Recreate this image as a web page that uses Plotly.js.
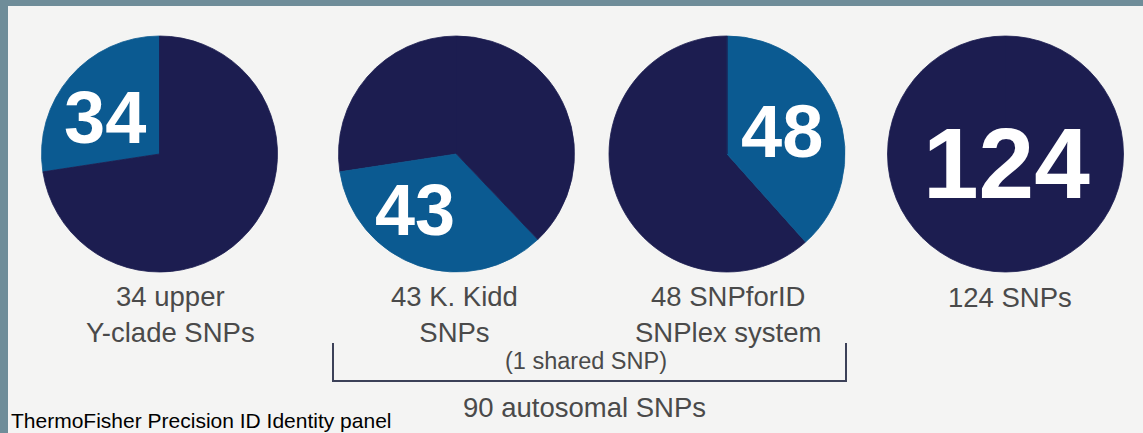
<!DOCTYPE html>
<html>
<head>
<meta charset="utf-8">
<script src="https://cdn.plot.ly/plotly-3.0.1.min.js"></script>
<style>
  html, body { margin: 0; padding: 0; background: #6f8d99; }
  #chart { width: 1143px; height: 433px; }
</style>
</head>
<body>
<div id="chart"></div>
<script>
// ---- data ----
const totalSNPs = 124;
const panelCounts = [34, 43, 48, 124];
const panelOffsets = [0, 34, 77, 0];          // where each SNP set starts in the 124-SNP list
const numberLabels = ['34', '43', '48', '124'];
const panelCaptions = ['34 upper<br>Y-clade SNPs', '43 K. Kidd<br>SNPs', '48 SNPforID<br>SNPlex system', '124 SNPs'];
const bracketNote = '(1 shared SNP)';
const bracketLabel = '90 autosomal SNPs';
const sourceNote = 'ThermoFisher Precision ID Identity panel';

// ---- style / layout ----
const W = 1143, H = 433;
const NAVY = '#1c1d50', BLUE = '#0b5a91', FRAME = '#6f8d99', PANEL = '#f4f4f3';
const highlightColors = [BLUE, BLUE, BLUE, NAVY];
const pieCenters = [[159.5, 154], [456.5, 154], [727, 154], [1005.5, 154]];
const pieDiameter = 236;
const numberPos = [[105, 117], [415, 210], [782, 132], [1006, 163]];
const numberSize = [74, 72, 74, 100];
const captionPos = [[170, 314], [454, 314], [728, 314], [1010, 297]];
const FONT = 'Liberation Sans, Arial, Helvetica, sans-serif';

const px = x => x / W;
const py = y => 1 - y / H;

const traces = panelCounts.map((c, i) => {
  const off = panelOffsets[i];
  const rest = Math.max(0, totalSNPs - off - c);
  const [cx, cy] = pieCenters[i];
  const r = pieDiameter / 2;
  const cols = [NAVY, NAVY, highlightColors[i], NAVY];
  // a leading zero-size slice makes the first real slice start at 12 o'clock going counterclockwise
  return {
    type: 'pie',
    values: [0, off, c, rest],
    labels: ['p' + i + 'start', 'p' + i + 'before', 'p' + i + 'set', 'p' + i + 'after'],
    marker: { colors: cols, line: { width: 0.8, color: cols } },
    sort: false,
    direction: 'counterclockwise',
    rotation: 0,
    textinfo: 'none',
    hoverinfo: 'skip',
    showlegend: false,
    domain: { x: [px(cx - r), px(cx + r)], y: [py(cy + r), py(cy - r)] }
  };
});

const annotations = [];
numberLabels.forEach((t, i) => {
  annotations.push({
    xref: 'paper', yref: 'paper', x: px(numberPos[i][0]), y: py(numberPos[i][1]),
    xanchor: 'center', yanchor: 'middle', showarrow: false, text: t,
    font: { family: FONT, size: numberSize[i], color: '#ffffff', weight: 'bold' }
  });
});
panelCaptions.forEach((t, i) => {
  annotations.push({
    xref: 'paper', yref: 'paper', x: px(captionPos[i][0]), y: py(captionPos[i][1]),
    xanchor: 'center', yanchor: 'middle', showarrow: false, text: t, align: 'center',
    font: { family: FONT, size: 27.5, color: '#4a4a4a' }
  });
});
annotations.push({
  xref: 'paper', yref: 'paper', x: px(586), y: py(361), xanchor: 'center', yanchor: 'middle',
  showarrow: false, text: bracketNote,
  font: { family: FONT, size: 23.5, color: '#4a4a4a' }
});
annotations.push({
  xref: 'paper', yref: 'paper', x: px(584), y: py(407), xanchor: 'center', yanchor: 'middle',
  showarrow: false, text: bracketLabel,
  font: { family: FONT, size: 27.5, color: '#4a4a4a' }
});
annotations.push({
  xref: 'paper', yref: 'paper', x: px(9), y: py(420), xanchor: 'left', yanchor: 'middle',
  showarrow: false, text: sourceNote,
  font: { family: FONT, size: 21, color: '#000000' }
});

const bx0 = 333, bx1 = 846, byTop = 343, byBot = 381;
const shapes = [
  { type: 'rect', xref: 'paper', yref: 'paper', x0: px(8), x1: 1, y0: 0, y1: py(6),
    fillcolor: PANEL, line: { width: 0 }, layer: 'below' },
  { type: 'path', xref: 'paper', yref: 'paper',
    path: `M ${px(bx0)} ${py(byTop)} L ${px(bx0)} ${py(byBot)} L ${px(bx1)} ${py(byBot)} L ${px(bx1)} ${py(byTop)}`,
    line: { color: '#3c4158', width: 2 } }
];

const layout = {
  width: W, height: H,
  margin: { l: 0, r: 0, t: 0, b: 0, pad: 0 },
  paper_bgcolor: FRAME, plot_bgcolor: FRAME,
  showlegend: false,
  annotations, shapes
};

Plotly.newPlot('chart', traces, layout, { displayModeBar: false, staticPlot: true });
</script>
</body>
</html>
